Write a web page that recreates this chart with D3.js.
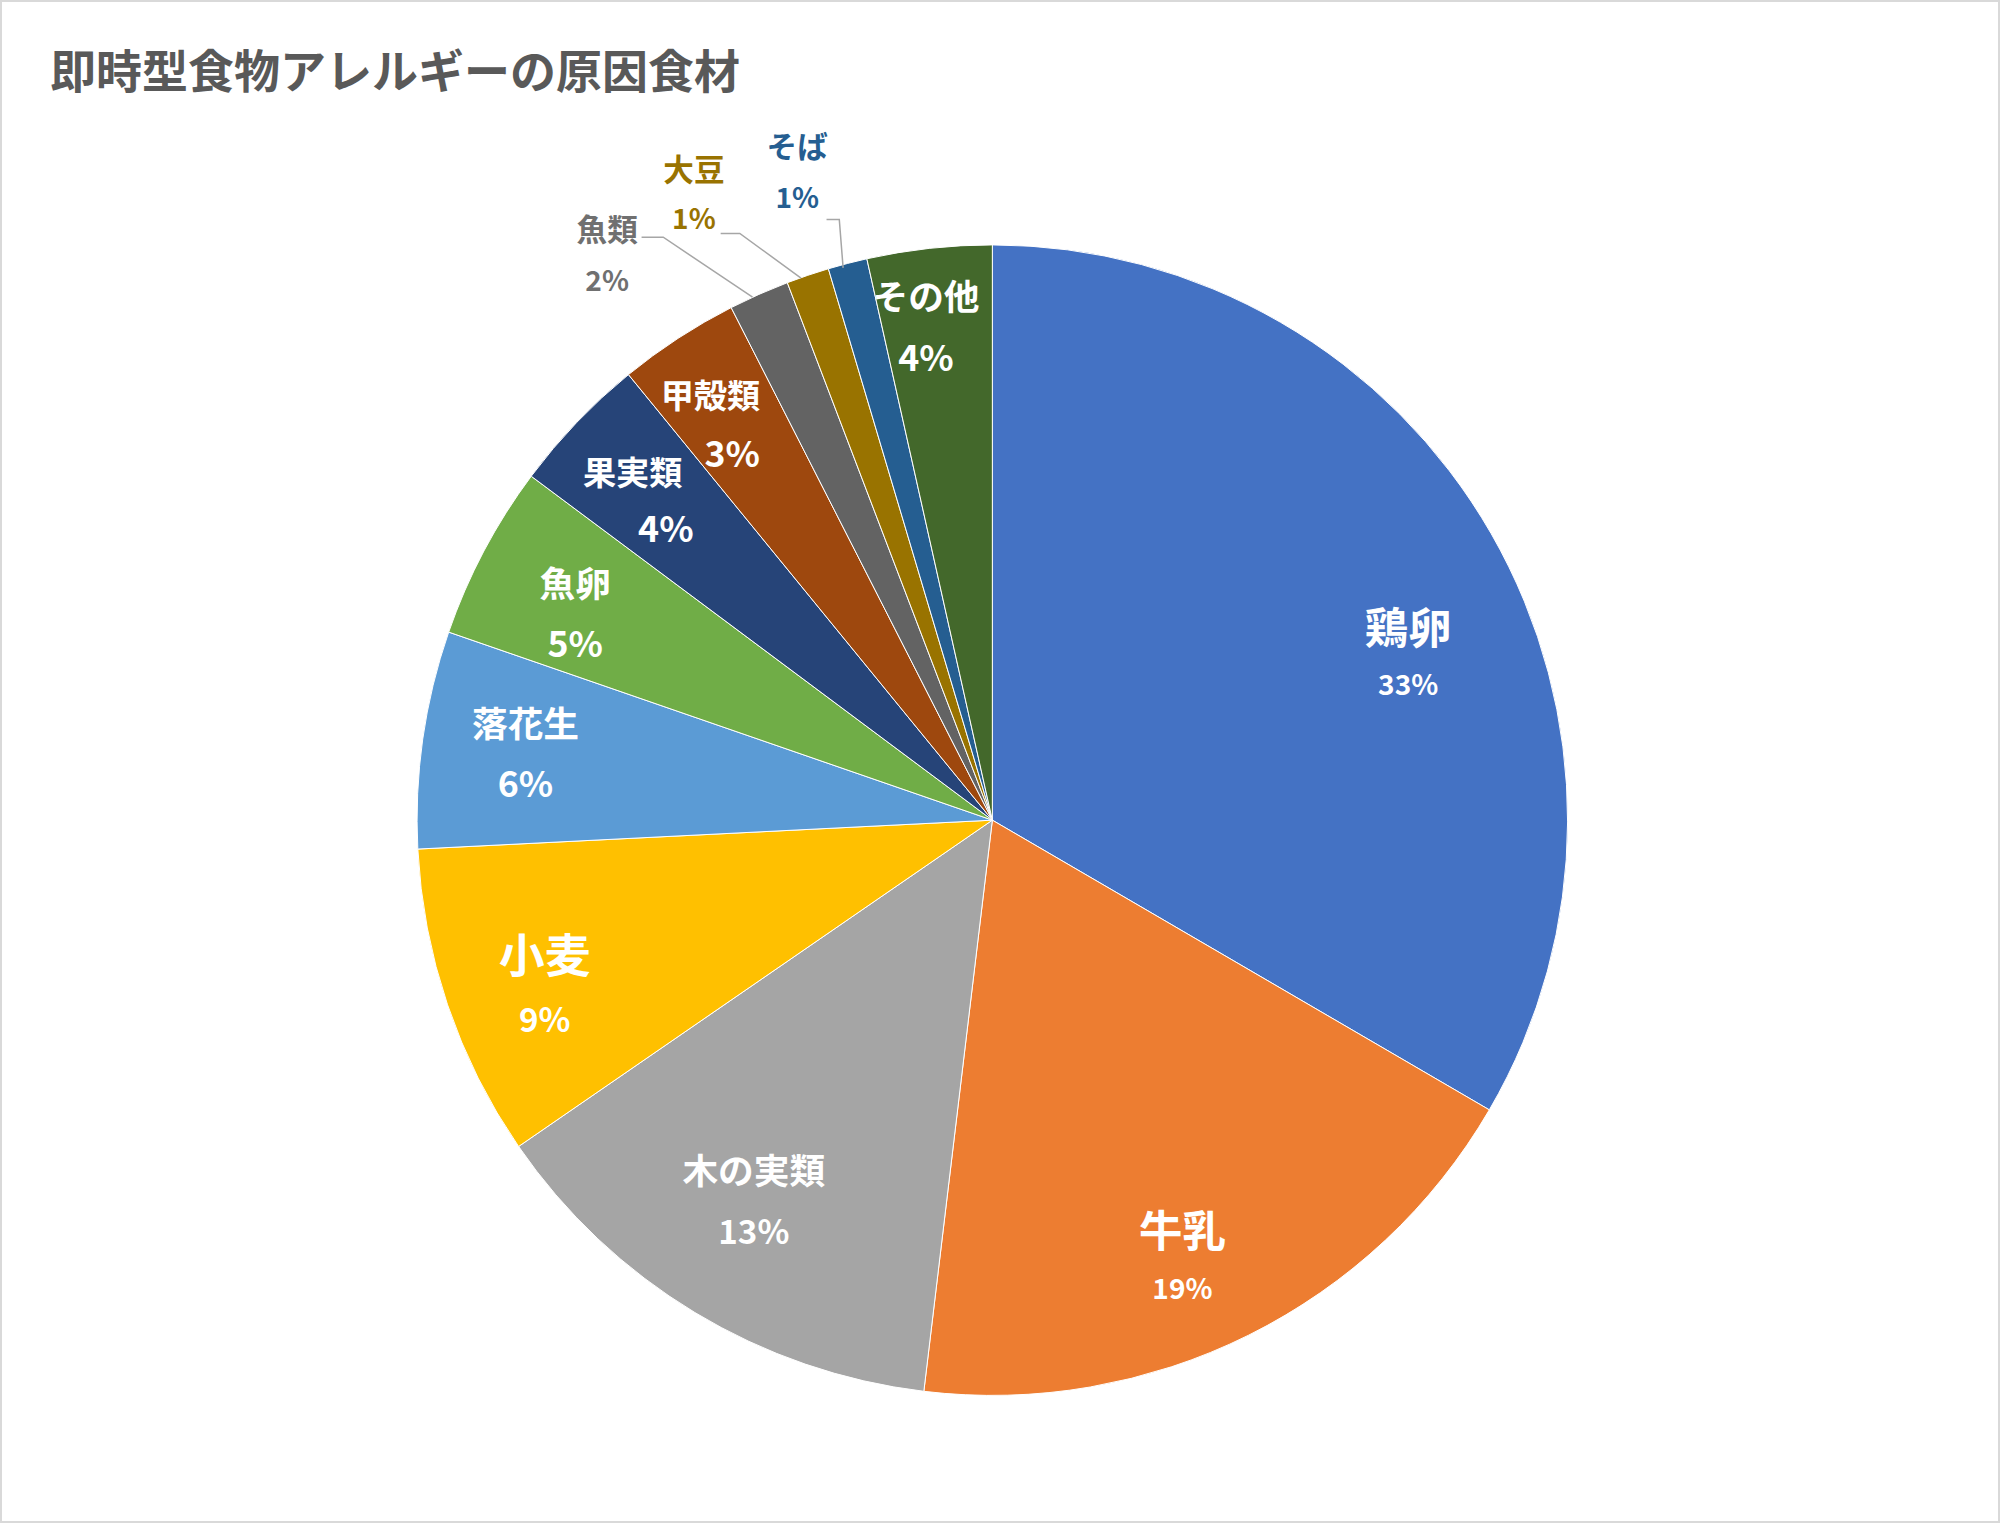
<!DOCTYPE html>
<html><head><meta charset="utf-8">
<script src="https://cdn.jsdelivr.net/npm/d3@7"></script>
<style>body{margin:0;background:#fff}svg{display:block}</style>
</head><body><div id="chart"></div>
<script>
// data
var categories = ["鶏卵","牛乳","木の実類","小麦","落花生","魚卵","果実類","甲殻類","魚類","大豆","そば","その他"];
var values = [33.4,18.5,13.5,8.8,6.1,4.9,3.9,3.4,1.7,1.2,1.1,3.5];
var pctLabels = ["33%","19%","13%","9%","6%","5%","4%","3%","2%","1%","1%","4%"];
var colors = ["#4472C4","#ED7D31","#A5A5A5","#FFC000","#5B9BD5","#70AD47","#264478","#9E480E","#636363","#997300","#255E91","#43682B"];

// label layout (display px at 1568 wide, scaled below)
var labelPos = [[1104,490,1104,535,34,22],[927,963,927,1009,34,22],[591,916,591,964,28,26],[427,746,427,798,36,26],
  [412,566,412,613,28,28],[451,456,451,503,28,28],[496,369,522,413,26,28],[557,309,574,354,26,28],
  [476,178,476,218,24,22],[544,131,544,170,24,22],[625,113,625,153,24,22],[726,231,726,279,28,28]];
var outside = {8:{c:"#707070",line:[[503,186],[520,186],[590,233]]},9:{c:"#997300",line:[[565,183],[580,183],[628,218]]},10:{c:"#255E91",line:[[648,172],[658,172],[661,210]]}};
var s = 2000/1568;

var W = 2000, H = 1523;
var svg = d3.select("#chart").append("svg").attr("width", W).attr("height", H)
  .style("font-family", "'Noto Sans CJK JP', sans-serif");
svg.append("rect").attr("x",1).attr("y",1).attr("width",W-2).attr("height",H-2)
  .attr("fill","#fff").attr("stroke","#d9d9d9").attr("stroke-width",2);

svg.append("text").attr("x",50).attr("y",88).attr("font-size",46).attr("font-weight","bold")
  .attr("fill","#595959").text("即時型食物アレルギーの原因食材");

var cx = 778*s, cy = 643*s, r = 451*s;
var pie = d3.pie().sort(null).value(function(d){return d;});
var arc = d3.arc().innerRadius(0).outerRadius(r);
var g = svg.append("g").attr("transform","translate("+cx+","+cy+")");
g.selectAll("path").data(pie(values)).enter().append("path")
  .attr("d", arc).attr("fill", function(d,i){return colors[i];})
  .attr("stroke","#fff").attr("stroke-width",1);

var line = d3.line();
categories.forEach(function(name, i) {
  var p = labelPos[i];
  var col = outside[i] ? outside[i].c : "#fff";
  if (outside[i]) {
    svg.append("path").attr("d", line(outside[i].line.map(function(q){return [q[0]*s,q[1]*s];})))
      .attr("fill","none").attr("stroke","#a6a6a6").attr("stroke-width",1.5);
  }
  svg.append("text").attr("x",p[0]*s).attr("y",p[1]*s).attr("text-anchor","middle").attr("dominant-baseline","central")
    .attr("font-size",p[4]*s).attr("font-weight","bold").attr("fill",col).text(name);
  svg.append("text").attr("x",p[2]*s).attr("y",p[3]*s).attr("text-anchor","middle").attr("dominant-baseline","central")
    .attr("font-size",p[5]*s).attr("font-weight","bold").attr("fill",col).text(pctLabels[i]);
});
</script></body></html>
